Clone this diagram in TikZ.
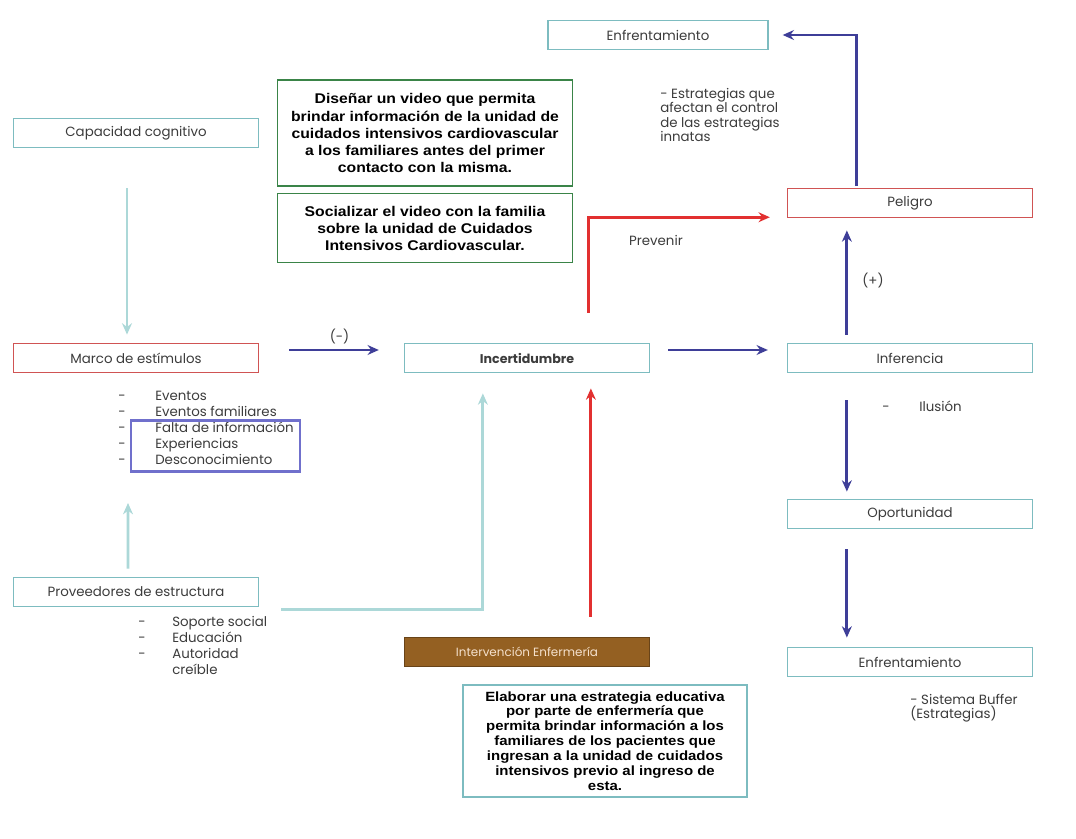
\documentclass[tikz,border=0pt]{standalone}
\usepackage{fontspec}
\setmainfont{Poppins}
\newfontfamily\boldsans[FakeStretch=1.12]{Liberation Sans}
\usetikzlibrary{arrows.meta}

\definecolor{tealline}{RGB}{125,188,192}
\definecolor{redline}{RGB}{208,84,84}
\definecolor{greenline}{RGB}{58,132,72}
\definecolor{bluearrow}{RGB}{62,62,152}
\definecolor{redarrow}{RGB}{226,48,48}
\definecolor{tealarrow}{RGB}{172,216,216}
\definecolor{hilite}{RGB}{112,112,204}
\definecolor{brownbox}{RGB}{148,96,34}
\definecolor{txtgray}{RGB}{60,60,60}

\begin{document}
\begin{tikzpicture}[x=0.025cm,y=-0.025cm,
    concept/.style={draw=tealline,line width=0.9pt,minimum width=6.125cm,
      minimum height=0.74cm,inner sep=0pt,text=txtgray,
      font=\fontsize{9.5}{11}\selectfont},
    alert/.style={concept,draw=redline},
    idea/.style={draw=greenline,line width=0.9pt,minimum width=7.375cm,
      inner sep=0pt,align=center,text=black,
      font=\boldsans\bfseries\fontsize{10}{12.1}\selectfont},
    note/.style={text=txtgray,inner sep=0pt,align=left,
      font=\fontsize{9.5}{11.4}\selectfont},
    bluearr/.style={-{Stealth[length=8pt,width=7pt]},draw=bluearrow,line width=2pt},
    redarr/.style={-{Stealth[length=8pt,width=7pt]},draw=redarrow,line width=2pt},
    tealarr/.style={-{Stealth[length=8pt,width=7pt]},draw=tealarrow,line width=2pt}]
  \fill[white] (0,0) rectangle (1076,839);
  \useasboundingbox (0,0) rectangle (1076,839);
  \draw
    (658,35) node[concept,minimum width=5.5cm] (enfa) {Enfrentamiento}
    (660,88) node[note,anchor=north west,font=\fontsize{9.5}{10.2}\selectfont] (enfanote)
      {- Estrategias que\\afectan el control\\de las estrategias\\innatas}
    (136,133) node[concept] (cap) {Capacidad cognitivo}
    (425,133) node[idea,minimum height=2.65cm] (video)
      {Diseñar un video que permita\\brindar información de la unidad de\\
       cuidados intensivos cardiovascular\\a los familiares antes del primer\\
       contacto con la misma.}
    (425,228) node[idea,minimum height=1.725cm] (social)
      {Socializar el video con la familia\\sobre la unidad de Cuidados\\
       Intensivos Cardiovascular.}
    (910,203) node[alert] (pel) {Peligro}
    (136,358) node[alert] (marco) {Marco de estímulos}
    (527,358) node[concept,font=\bfseries\fontsize{9}{10}\selectfont] (inc) {Incertidumbre}
    (910,358) node[concept] (inf) {Inferencia}
    (118,389) node[note,anchor=north west] (mlist)
      {\begin{tabular}{@{}p{0.925cm}@{}l@{}}
        - & Eventos\\
        - & Eventos familiares\\
        - & Falta de información\\
        - & Experiencias\\
        - & Desconocimiento
      \end{tabular}}
    (215.5,446) node[draw=hilite,line width=1.8pt,minimum width=4.225cm,
      minimum height=1.275cm] (hl) {}
    (882,408) node[note,anchor=west] (ilu)
      {\begin{tabular}{@{}p{0.925cm}@{}l@{}}- & Ilusión\end{tabular}}
    (910,514) node[concept] (opo) {Oportunidad}
    (136,592) node[concept] (prov) {Proveedores de estructura}
    (138,615) node[note,anchor=north west] (plist)
      {\begin{tabular}{@{}p{0.85cm}@{}l@{}}
        - & Soporte social\\
        - & Educación\\
        - & Autoridad\\
          & creíble
      \end{tabular}}
    (527,652) node[concept,draw=brownbox!70!black,fill=brownbox,
      font=\fontsize{8.5}{10}\selectfont,
      text={rgb,255:red,245;green,225;blue,205}] (int) {Intervención Enfermería}
    (605,741) node[idea,draw=tealline,minimum width=7.1cm,minimum height=2.8cm,
      font=\boldsans\bfseries\fontsize{9.5}{10.6}\selectfont] (plan)
      {Elaborar una estrategia educativa\\por parte de enfermería que\\
       permita brindar información a los\\familiares de los pacientes que\\
       ingresan a la unidad de cuidados\\intensivos previo al ingreso de\\esta.}
    (910,662) node[concept] (enfb) {Enfrentamiento}
    (910,694) node[note,anchor=north west,font=\fontsize{9.5}{10.2}\selectfont] (enfbnote)
      {- Sistema Buffer\\(Estrategias)};
  \coordinate (mlistfoot) at (128,503);
  \begin{scope}[bluearr]
    \draw[shorten <=0.75cm,shorten >=0.625cm]
      ([yshift=0.2cm]marco.east) -- node[note,above=3pt,xshift=0.2cm] (minus) {(-)} ([yshift=0.2cm]inc.west);
    \draw[shorten <=0.45cm,shorten >=0.475cm]
      ([yshift=0.2cm]inc.east) -- ([yshift=0.2cm]inf.west);
    \draw[shorten <=0.2cm,shorten >=0.3cm]
      ([xshift=1.5cm]inf.north west) -- node[note,right=10pt] (plus) {(+)} ([xshift=1.5cm]pel.south west);
    \draw[shorten <=0.675cm,shorten >=0.175cm]
      ([xshift=1.5cm]inf.south west) -- ([xshift=1.5cm]opo.north west);
    \draw[shorten <=0.5cm,shorten >=0.225cm]
      ([xshift=1.5cm]opo.south west) -- ([xshift=1.5cm]enfb.north west);
    \draw[shorten <=0.05cm,shorten >=0.35cm]
      ([xshift=1.75cm]pel.north west) |- (enfa.east);
  \end{scope}
  \begin{scope}[redarr]
    \draw[shorten <=0.75cm,shorten >=0.425cm]
      ([xshift=4.625cm]inc.north west) |- ([yshift=0.03cm]pel.south west);
    \draw[shorten <=0.5cm,shorten >=0.375cm]
      ([xshift=4.675cm]int.north west) -- ([xshift=4.675cm]inc.south west);
  \end{scope}
  \begin{scope}[tealarr]
    \draw[shorten <=1cm,shorten >=0.2cm]
      ([xshift=-0.225cm]cap.south) -- ([xshift=-0.225cm]marco.north);
    \draw[shorten <=0.2cm] ([xshift=-0.2cm]prov.north) -- (mlistfoot);
    \draw[shorten >=0.5cm]
      ([xshift=0.55cm,yshift=-0.05cm]prov.south east) -| ([xshift=1.975cm]inc.south west);
  \end{scope}
  \path (656,240) node[note] (prev) {Prevenir};
\end{tikzpicture}
\end{document}
